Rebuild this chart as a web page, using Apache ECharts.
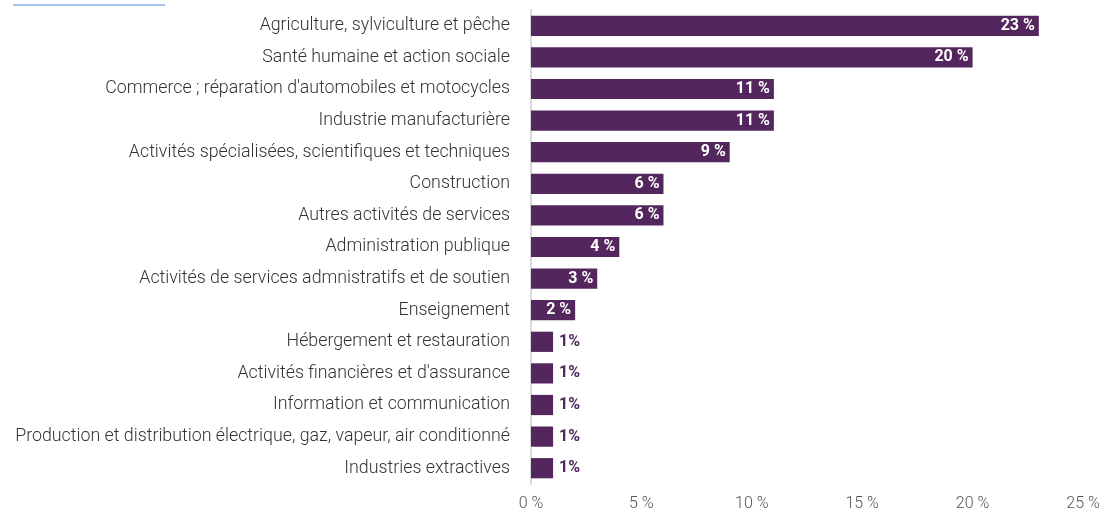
<!DOCTYPE html>
<html>
<head>
<meta charset="utf-8">
<script src="https://cdn.jsdelivr.net/npm/echarts@6/dist/echarts.min.js"></script>
<style>
html,body{margin:0;padding:0;background:#fff;}
#chart{width:1104px;height:510px;}
</style>
</head>
<body>
<div id="chart"></div>
<script>
var categories = [
  "Agriculture, sylviculture et pêche",
  "Santé humaine et action sociale",
  "Commerce ; réparation d'automobiles et motocycles",
  "Industrie manufacturière",
  "Activités spécialisées, scientifiques et techniques",
  "Construction",
  "Autres activités de services",
  "Administration publique",
  "Activités de services admnistratifs et de soutien",
  "Enseignement",
  "Hébergement et restauration",
  "Activités financières et d'assurance",
  "Information et communication",
  "Production et distribution électrique, gaz, vapeur, air conditionné",
  "Industries extractives"
];
var values = [23, 20, 11, 11, 9, 6, 6, 4, 3, 2, 1, 1, 1, 1, 1];
var xTicks = [0, 5, 10, 15, 20, 25];

var purple = "#53275e";
var data = values.map(function (v) {
  var small = v < 1.5;
  return {
    value: v,
    label: {
      show: true,
      position: small ? "right" : "insideRight",
      color: small ? purple : "#ffffff",
      formatter: small ? v + "%" : v + " %",
      fontWeight: "bold",
      fontSize: 16,
      distance: small ? 6 : 4,
      fontFamily: "Roboto"
    }
  };
});

var chart = echarts.init(document.getElementById("chart"), null, { renderer: "canvas" });
var option = {
  animation: false,
  grid: { left: 531, right: 21, top: 10, bottom: 26, containLabel: false, outerBoundsMode: "none" },
  graphic: [{
    type: "line",
    shape: { x1: 13, y1: 5, x2: 165, y2: 5 },
    style: { stroke: "#a9c4f0", lineWidth: 2 }
  }],
  xAxis: {
    type: "value",
    min: xTicks[0],
    max: xTicks[xTicks.length - 1],
    interval: 5,
    splitLine: { show: false },
    axisLine: { show: false },
    axisTick: { show: false },
    axisLabel: {
      formatter: "{value} %",
      color: "#555",
      fontSize: 16,
      fontFamily: "Roboto",
      fontWeight: 300,
      margin: 12
    }
  },
  yAxis: {
    type: "category",
    inverse: true,
    data: categories,
    axisLine: { show: true, lineStyle: { color: "#d9d9d9", width: 2 } },
    axisTick: { show: false },
    axisLabel: {
      color: "#333",
      fontSize: 17.8,
      fontFamily: "Roboto",
      fontWeight: 300,
      margin: 21
    }
  },
  series: [{
    type: "bar",
    data: data,
    barCategoryGap: "36%",
    itemStyle: { color: purple }
  }]
};
chart.setOption(option);
</script>
</body>
</html>
